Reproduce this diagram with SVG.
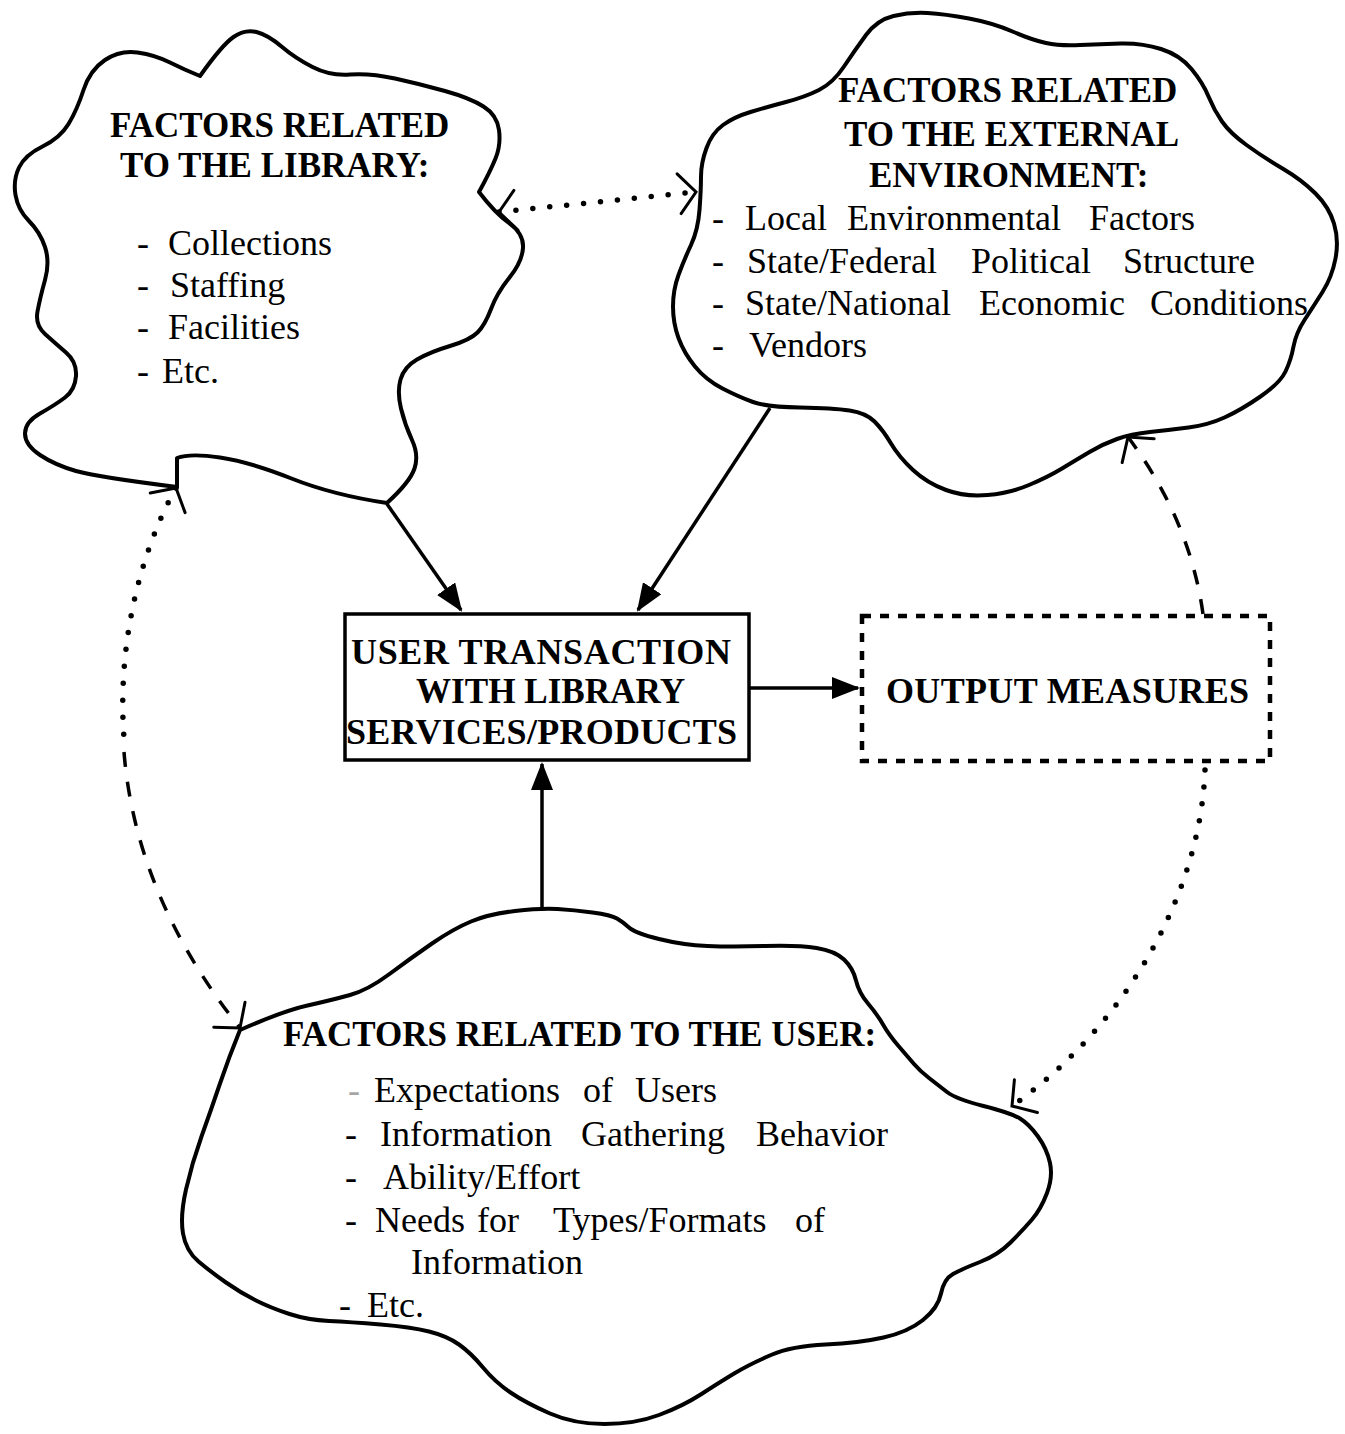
<svg xmlns="http://www.w3.org/2000/svg" width="1345" height="1434" viewBox="0 0 1345 1434">
<style>
  .cloud { fill: none; stroke: #000; stroke-width: 4; stroke-linejoin: round; stroke-linecap: round; }
  .box { fill: #fff; stroke: #000; stroke-width: 3.5; }
  .dbox { fill: none; stroke: #000; stroke-width: 4.5; stroke-dasharray: 9 9; }
  .h { font-family: "Liberation Serif", "Times New Roman", serif; font-weight: bold; font-size: 35px; fill: #000; }
  .hb { font-family: "Liberation Serif", "Times New Roman", serif; font-weight: bold; font-size: 36px; fill: #000; }
  .t { font-family: "Liberation Serif", "Times New Roman", serif; font-size: 36px; fill: #000; }
  .solid { fill: none; stroke: #000; stroke-width: 3.5; marker-end: url(#fill-arrow); }
  .dots { fill: none; stroke: #000; stroke-width: 5.5; stroke-linecap: round; stroke-dasharray: 0 17; }
  .dashes { fill: none; stroke: #000; stroke-width: 3.5; stroke-dasharray: 15 15; }
</style>
<defs>
  <marker id="fill-arrow" markerUnits="userSpaceOnUse" viewBox="0 0 28 22" refX="26" refY="11" markerWidth="28" markerHeight="22" orient="auto">
    <path d="M0,0 L28,11 L0,22 Z" fill="#000" stroke="none"/>
  </marker>
  <marker id="open-arrow" markerUnits="userSpaceOnUse" viewBox="0 0 30 44" refX="29" refY="22" markerWidth="30" markerHeight="44" orient="auto-start-reverse" overflow="visible">
    <path d="M12,2 L29,22 L12,42" fill="none" stroke="#000" stroke-width="3" stroke-dasharray="none" stroke-linecap="round"/>
  </marker>
</defs>

<g id="node-library">
  <path class="cloud" d="M200,76 Q222,45 233.5,37 Q245,29 256.5,32 Q268,35 281.5,46.5 Q295,58 312.5,67 Q330,76 350,74.5 Q370,73 395,78.5 Q420,84 445,91 Q470,98 483.5,106.5 Q497,115 499,130 Q501,145 495.5,158.5 Q490,172 479,192 Q495,213 509.5,223.5 Q524,234 523,248 Q522,262 509.5,277.5 Q497,293 491,309 Q485,325 477.5,332.5 Q470,340 450,346 Q430,352 417,359.5 Q404,367 400.5,379.5 Q397,392 401,408.5 Q405,425 412,440 Q419,455 414.5,468.5 Q410,482 387,503 Q333,495 291.5,478.5 Q250,462 220,457.5 Q190,453 177,458 L177,487 Q97,477 76,471 Q55,465 40,455 Q25,445 25,433.5 Q25,422 40,413.5 Q55,405 65,397.5 Q75,390 76,376 Q77,362 66,352.5 Q55,343 45,334 Q35,325 37.5,311.5 Q40,298 45,280 Q50,262 45,247 Q40,232 29,221 Q18,210 15.5,195 Q13,180 19,167.5 Q25,155 42.5,146.5 Q60,138 68.5,124 Q77,110 83.5,90 Q90,70 105,60 Q120,50 137.5,52.5 Q155,55 170,62.5 Q185,70 200,76 Z"/>
  <text class="h" x="110" y="137">FACTORS RELATED</text>
  <text class="h" x="120" y="177">TO THE LIBRARY:</text>
  <text class="t" x="137" y="255">- <tspan x="168">Collections</tspan></text>
  <text class="t" x="137" y="297">- <tspan x="170">Staffing</tspan></text>
  <text class="t" x="137" y="339">- <tspan x="168">Facilities</tspan></text>
  <text class="t" x="137" y="383">- <tspan x="162">Etc.</tspan></text>
</g>

<g id="node-external">
  <path class="cloud" d="M699.5,210 Q701,190 701,176.5 Q701,163 706.5,148 Q712,133 723,125 Q734,117 750.5,112 Q767,107 786,102 Q805,97 819,90 Q833,83 844,66.5 Q855,50 866,35 Q877,20 893.5,16 Q910,12 927.5,13 Q945,14 969,18.5 Q993,23 1012.5,31.5 Q1032,40 1046,43 Q1060,46 1080,45 Q1100,44 1121,43.5 Q1142,43 1161,49 Q1180,55 1191.5,69 Q1203,83 1208.5,96.5 Q1214,110 1222,121.5 Q1230,133 1246.5,145 Q1263,157 1282.5,168.5 Q1302,180 1315.5,193.5 Q1329,207 1334,223.5 Q1339,240 1335.5,258.5 Q1332,277 1322.5,292 Q1313,307 1304.5,320 Q1296,333 1293.5,346.5 Q1291,360 1285.5,371.5 Q1280,383 1260.5,396.5 Q1241,410 1224.5,417.5 Q1208,425 1188.5,427.5 Q1169,430 1150,432 Q1131,434 1117,439 Q1103,444 1089.5,452 Q1076,460 1062,468.5 Q1048,477 1029,485 Q1010,493 987.5,495 Q965,497 946,490 Q927,483 913,470 Q899,457 891,443.5 Q883,430 874.5,421.5 Q866,413 849.5,410.5 Q833,408 800,407.5 Q767,407 753,402 Q739,397 722.5,388.5 Q706,380 695,366.5 Q684,353 678.5,338 Q673,323 673,306.5 Q673,290 678.5,275 Q684,260 691,245 Q698,230 699.5,210 Z"/>
  <text class="h" x="838" y="102">FACTORS RELATED</text>
  <text class="h" x="844" y="146">TO THE EXTERNAL</text>
  <text class="h" x="869" y="187">ENVIRONMENT:</text>
  <text class="t" x="712" y="230">- <tspan x="745">Local</tspan> <tspan x="847">Environmental</tspan> <tspan x="1089">Factors</tspan></text>
  <text class="t" x="712" y="273">- <tspan x="747">State/Federal</tspan> <tspan x="971">Political</tspan> <tspan x="1123">Structure</tspan></text>
  <text class="t" x="712" y="315">- <tspan x="745">State/National</tspan> <tspan x="979">Economic</tspan> <tspan x="1150">Conditions</tspan></text>
  <text class="t" x="712" y="357">- <tspan x="749">Vendors</tspan></text>
</g>

<g id="node-transaction">
  <rect class="box" x="345" y="614" width="404" height="146"/>
  <text class="hb" x="351" y="664" textLength="380" lengthAdjust="spacing">USER TRANSACTION</text>
  <text class="hb" x="416" y="703" textLength="269" lengthAdjust="spacingAndGlyphs">WITH LIBRARY</text>
  <text class="hb" x="346" y="744" textLength="391" lengthAdjust="spacing">SERVICES/PRODUCTS</text>
</g>

<g id="node-output">
  <rect class="dbox" x="862" y="616" width="408" height="145"/>
  <text class="hb" x="886" y="703" textLength="363" lengthAdjust="spacing">OUTPUT MEASURES</text>
</g>

<g id="node-user">
  <path class="cloud" d="M240,1030 Q283,1011 307.5,1005.5 Q332,1000 350,995 Q368,990 389.5,974 Q411,958 432,943.5 Q453,929 471,921.5 Q489,914 515,911 Q541,908 557.5,909 Q574,910 592.5,912.5 Q611,915 617,918.5 Q623,922 629,927.5 Q635,933 659,939 Q683,945 707.5,946 Q732,947 765,946 Q798,945 816.5,948 Q835,951 844,959.5 Q853,968 856,980.5 Q859,993 868,1003.5 Q877,1014 883,1024.5 Q889,1035 898.5,1046 Q908,1057 914,1064 Q920,1071 929,1078 Q938,1085 947,1092 Q956,1099 983.5,1106 Q1011,1113 1020,1118.5 Q1029,1124 1038,1136.5 Q1047,1149 1050,1163 Q1053,1177 1047,1193 Q1041,1209 1032,1219.5 Q1023,1230 1010.5,1242.5 Q998,1255 980,1262 Q962,1269 953,1274 Q944,1279 941,1293.5 Q938,1308 923,1320 Q908,1332 883.5,1337.5 Q859,1343 825.5,1344.5 Q792,1346 771,1355 Q750,1364 735,1373 Q720,1382 701.5,1394 Q683,1406 659,1415 Q635,1424 604.5,1424 Q574,1424 550,1413.5 Q526,1403 510.5,1392.5 Q495,1382 483,1367.5 Q471,1353 459,1344.5 Q447,1336 429,1331.5 Q411,1327 380.5,1324.5 Q350,1322 329,1321 Q308,1320 289.5,1314 Q271,1308 256,1300.5 Q241,1293 226,1282.5 Q211,1272 198.5,1261.5 Q186,1251 183,1233.5 Q180,1216 186,1189.5 Q192,1163 201.5,1136.5 Q211,1110 220,1083.5 Q229,1057 240,1030 Z"/>
  <text class="h" x="283" y="1046">FACTORS RELATED TO THE USER:</text>
  <text class="t" x="348" y="1102" opacity="0.35" font-size="20">-</text>
  <text class="t" y="1102"><tspan x="374">Expectations</tspan> <tspan x="583">of</tspan> <tspan x="635">Users</tspan></text>
  <text class="t" x="345" y="1146">- <tspan x="380">Information</tspan> <tspan x="581">Gathering</tspan> <tspan x="756">Behavior</tspan></text>
  <text class="t" x="345" y="1189">- <tspan x="383">Ability/Effort</tspan></text>
  <text class="t" x="345" y="1232">- <tspan x="375">Needs</tspan> <tspan x="477">for</tspan> <tspan x="553">Types/Formats</tspan> <tspan x="795">of</tspan></text>
  <text class="t" x="411" y="1274">Information</text>
  <text class="t" x="339" y="1317">- <tspan x="367">Etc.</tspan></text>
</g>

<g id="connectors">
  <path class="solid" d="M387,504 L461,610"/>
  <path class="solid" d="M770,408 L638,610"/>
  <path class="solid" d="M542,908 L542,764"/>
  <path class="solid" d="M749,688 L858,688"/>
  <path class="dots" d="M499,212 L696,192" marker-start="url(#open-arrow)" marker-end="url(#open-arrow)"/>
  <path class="dots" d="M176,488 C140,552 117,645 124,738" marker-start="url(#open-arrow)"/>
  <path class="dashes" d="M124,752 C131,840 165,934 240,1028" marker-end="url(#open-arrow)"/>
  <path class="dashes" d="M1203,614 Q1190,520 1128,437" marker-end="url(#open-arrow)"/>
  <path class="dots" d="M1205,770 C1200,900 1120,1030 1012,1106" marker-end="url(#open-arrow)"/>
</g>
</svg>
